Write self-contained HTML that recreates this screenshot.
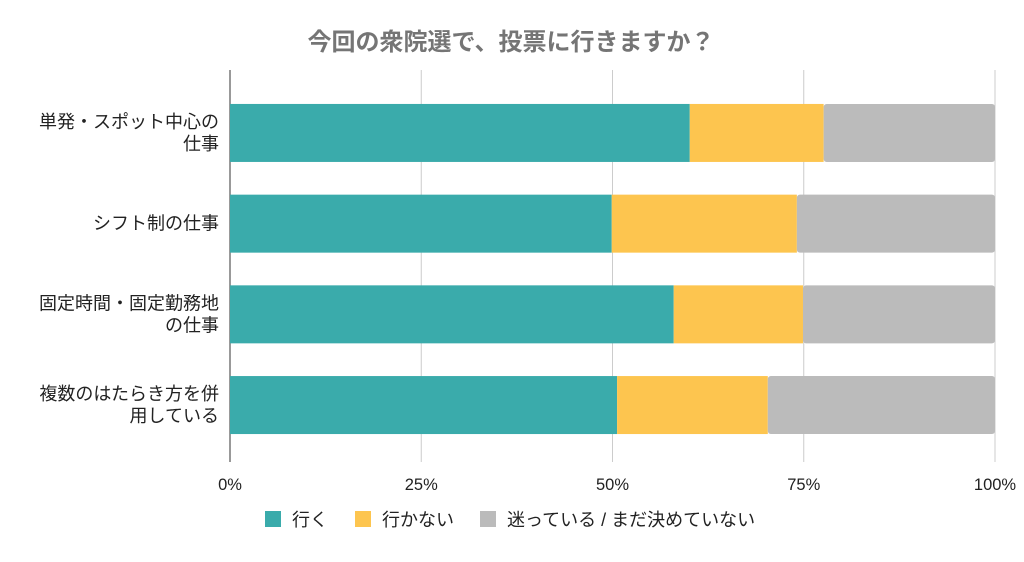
<!DOCTYPE html>
<html><head><meta charset="utf-8"><style>
body{margin:0;background:#fff;}
svg text{font-family:"Liberation Sans","Noto Sans CJK JP",sans-serif;}
</style></head><body>
<svg id="chart" width="1024" height="557" xmlns="http://www.w3.org/2000/svg">
<text x="511" y="50" text-anchor="middle" font-size="24" font-weight="bold" fill="#757575">今回の衆院選で、投票に行きますか？</text>
<g id="grid"></g><g id="bars"></g><g id="labels"></g><g id="legend"></g>
</svg>
<script>
const categories=[["単発・スポット中心の","仕事"],["シフト制の仕事"],["固定時間・固定勤務地","の仕事"],["複数のはたらき方を併","用している"]];
const goVals=[60.1,49.9,58.0,50.6];
const noVals=[17.5,24.2,16.9,19.7];
const undecidedVals=[22.4,25.9,25.1,29.7];
const seriesNames=["行く","行かない","迷っている / まだ決めていない"];
const colors=["#3aabab","#fdc54f","#bbbbbb"];
const ticks=[0,25,50,75,100];
const tickLabels=["0%","25%","50%","75%","100%"];
const NS="http://www.w3.org/2000/svg";
const x0=230,x1=995,plotTop=70,plotBottom=462,bandStart=87.6;
const xs=v=>x0+(x1-x0)*v/100;
const band=90.7,bh=58;
function mk(t,a,p){const e=document.createElementNS(NS,t);for(const k in a)e.setAttribute(k,a[k]);p.appendChild(e);return e;}
const grid=document.getElementById('grid'),bars=document.getElementById('bars'),labels=document.getElementById('labels'),legend=document.getElementById('legend');
ticks.forEach((t,i)=>{
 if(t>0){const l=mk('line',{x1:xs(t),x2:xs(t),y1:plotTop,y2:plotBottom,stroke:'#cccccc','stroke-width':1},grid);
 
 }
 const tx=mk('text',{x:xs(t),y:490,'text-anchor':'middle','font-size':16.5,fill:'#222'},labels);tx.textContent=tickLabels[i];
 
 
});
const series=[goVals,noVals,undecidedVals];
categories.forEach((c,i)=>{
 const cy=bandStart+band*i+band/2;let acc=0;
 series.forEach((s,j)=>{
  const v=s[i];const r=mk('rect',{x:xs(acc),y:cy-bh/2,width:xs(acc+v)-xs(acc),height:bh,fill:colors[j]},bars);
  if(j===2){r.setAttribute('rx',3);}
  
  
  acc+=v;
 });
 c.forEach((line,k)=>{
  const t=mk('text',{x:219,y:cy+6+(k-(c.length-1)/2)*22,'text-anchor':'end','font-size':18,fill:'#222'},labels);t.textContent=line;
  
  
 });
});
const ax=mk('line',{x1:x0,x2:x0,y1:plotTop,y2:plotBottom,stroke:'#333','stroke-width':1},grid);


const lx=[265,355,480];
seriesNames.forEach((n,j)=>{
 const g=mk('g',{},legend);
 
 
 mk('rect',{x:lx[j],y:511,width:16,height:16,fill:colors[j]},g);
 const t=mk('text',{x:lx[j]+27,y:526,'font-size':18,fill:'#222'},g);t.textContent=n;
});
</script>
</body></html>
